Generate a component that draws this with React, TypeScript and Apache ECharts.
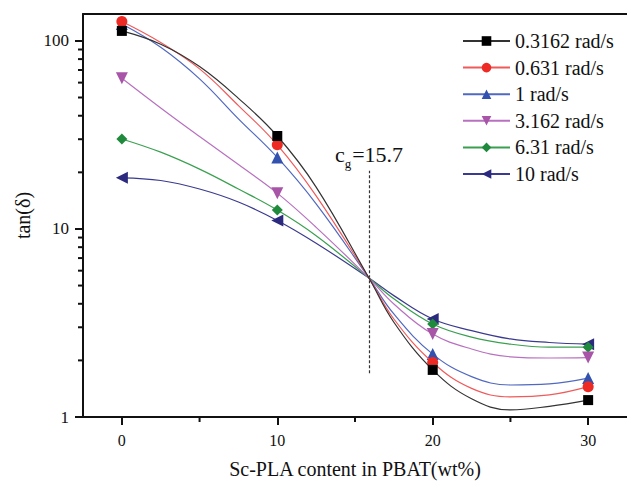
import React, { useEffect, useRef } from "react";
import * as echarts from "echarts";

const SERIES_NAMES = ["0.3162 rad/s", "0.631 rad/s", "1 rad/s", "3.162 rad/s", "6.31 rad/s", "10 rad/s"];
const X_MEASURED = [0, 10, 20, 30];
const S1 = [113, 31.2, 1.78, 1.23];
const S2 = [126.7, 28, 1.95, 1.45];
const S3 = [123, 24, 2.16, 1.61];
const S4 = [63.3, 15.5, 2.76, 2.07];
const S5 = [30.1, 12.6, 3.12, 2.35];
const S6 = [18.7, 11.1, 3.32, 2.44];

// points
const X_CURVE = [2.5, 5, 7.5, 12.5, 15.9, 17.5, 22.5, 25, 27.5];
const C1 = [96, 73, 49.5, 16.7, 5.48, 3.19, 1.25, 1.09, 1.14];
const C2 = [98, 71, 45.3, 15.0, 5.48, 3.32, 1.42, 1.28, 1.31];
const C3 = [92.5, 62.8, 38.5, 13.6, 5.48, 3.53, 1.64, 1.48, 1.5];
const C4 = [44, 31, 22, 10.2, 5.48, 3.99, 2.3, 2.09, 2.06];
const C5 = [25.6, 20.8, 16.3, 9.2, 5.48, 4.25, 2.66, 2.44, 2.35];
const C6 = [18.1, 16.3, 13.9, 8.4, 5.48, 4.42, 2.88, 2.6, 2.49];

const X_TICKS = [0, 10, 20, 30];
const X_MINOR = [5, 15, 25];
const Y_TICKS = [1, 10, 100];
const Y_MINOR = [2, 3, 4, 5, 6, 7, 8, 9, 20, 30, 40, 50, 60, 70, 80, 90];
const X_MIN = -2.5;
const X_MAX = 32.5;
const Y_MIN = 1;
const Y_MAX = 139;
const CG_X = 15.9;
const CG_RANGE = [1.71, 20.4];
const CG_TEXT = "=15.7";

const MEASURED = [S1, S2, S3, S4, S5, S6];
const CURVES = [C1, C2, C3, C4, C5, C6];
const MARKER_COLORS = ["#000000", "#ee2a24", "#3352b0", "#a855a8", "#1f8a3c", "#2b2a7e"];
const LINE_COLORS = ["#333333", "#f05a5a", "#5068c0", "#b870c0", "#3aa050", "#3a3a90"];
const SYMBOLS = [
  "rect",
  "circle",
  "triangle",
  "path://M0,0 L10,0 L5,9 Z",
  "diamond",
  "path://M9,0 L9,10 L0,5 Z",
];
const SIZES = [10, 11, 12, 12, 11, 12];

const FONT = "Liberation Serif";
const INK = "#111111";

export default function App() {
  const ref = useRef<HTMLDivElement>(null);
  useEffect(() => {
    const chart = echarts.init(ref.current!, null, { renderer: "svg" });
    const series: any[] = SERIES_NAMES.map((name, i) => {
      const pts: any[] = [];
      X_MEASURED.forEach((x, k) => pts.push({ value: [x, MEASURED[i][k]] }));
      X_CURVE.forEach((x, k) => pts.push({ value: [x, CURVES[i][k]], symbol: "none" }));
      pts.sort((a, b) => a.value[0] - b.value[0]);
      const s: any = {
        name,
        type: "line",
        data: pts,
        smooth: 0.4,
        symbol: SYMBOLS[i],
        symbolSize: SIZES[i],
        showSymbol: true,
        lineStyle: { color: LINE_COLORS[i], width: 1.2 },
        itemStyle: { color: MARKER_COLORS[i] },
        z: 10 - i,
      };
      if (i === 0) {
        s.markLine = {
          silent: true,
          symbol: "none",
          animation: false,
          lineStyle: { color: "#333", width: 1.2, type: [3, 2] },
          label: {
            show: true,
            position: "end",
            distance: 3,
            formatter: "{c|c}{g|g}{c|" + CG_TEXT + "}",
            rich: {
              c: { fontFamily: FONT, fontSize: 22, color: INK, lineHeight: 24, verticalAlign: "top" },
              g: { fontFamily: FONT, fontSize: 13, color: INK, lineHeight: 24, padding: [13, 1, 0, 0], verticalAlign: "top" },
            },
          },
          data: [[{ coord: [CG_X, CG_RANGE[0]] }, { coord: [CG_X, CG_RANGE[1]] }]],
        };
      }
      return s;
    });

    // minor ticks drawn along the axes
    series.push({
      type: "custom",
      coordinateSystem: "cartesian2d",
      silent: true,
      clip: false,
      encode: { x: 0, y: 1 },
      data: Y_MINOR.map((v) => [X_MIN, v]),
      renderItem: (params: any, api: any) => {
        const p = api.coord([api.value(0), api.value(1)]);
        return {
          type: "line",
          shape: { x1: p[0] - 5, y1: p[1], x2: p[0], y2: p[1] },
          style: { stroke: INK, lineWidth: 2 },
        };
      },
      z: 20,
    });
    series.push({
      type: "custom",
      coordinateSystem: "cartesian2d",
      silent: true,
      clip: false,
      encode: { x: 0, y: 1 },
      data: X_MINOR.map((v) => [v, Y_MIN]),
      renderItem: (params: any, api: any) => {
        const p = api.coord([api.value(0), api.value(1)]);
        return {
          type: "line",
          shape: { x1: p[0], y1: p[1], x2: p[0], y2: p[1] + 5 },
          style: { stroke: INK, lineWidth: 2 },
        };
      },
      z: 20,
    });

    chart.setOption({
      animation: false,
      backgroundColor: "#ffffff",
      textStyle: { fontFamily: FONT },
      grid: { left: 83, right: 0, top: 14, bottom: 64, containLabel: false, outerBoundsMode: "none" },
      legend: {
        orient: "vertical",
        left: 462,
        top: 31,
        padding: 0,
        itemWidth: 47,
        itemHeight: 12,
        itemGap: 6.6,
        textStyle: { fontFamily: FONT, fontSize: 20, color: INK, lineHeight: 20 },
        data: SERIES_NAMES,
      },
      xAxis: [
        {
          type: "value",
          min: X_MIN,
          max: X_MAX,
          name: "Sc-PLA content in PBAT(wt%)",
          nameLocation: "middle",
          nameGap: 42,
          nameTextStyle: { fontFamily: FONT, fontSize: 20, color: INK },
          axisLine: { onZero: false, lineStyle: { color: INK, width: 2 } },
          axisTick: { customValues: X_TICKS, length: 8, lineStyle: { color: INK, width: 2 } },
          axisLabel: { customValues: X_TICKS, margin: 15, fontFamily: FONT, fontSize: 16, color: INK },
          splitLine: { show: false },
        },
        {
          type: "value",
          min: X_MIN,
          max: X_MAX,
          position: "top",
          axisLine: { show: true, onZero: false, lineStyle: { color: INK, width: 2 } },
          axisTick: { show: false },
          axisLabel: { show: false },
          splitLine: { show: false },
        },
      ],
      yAxis: [
        {
          type: "log",
          min: Y_MIN,
          max: Y_MAX,
          name: "tan(δ)",
          nameLocation: "middle",
          nameGap: 48,
          nameRotate: 90,
          nameTextStyle: { fontFamily: FONT, fontSize: 20, color: INK },
          axisLine: { onZero: false, lineStyle: { color: INK, width: 2 } },
          axisTick: { customValues: Y_TICKS, length: 8, lineStyle: { color: INK, width: 2 } },
          axisLabel: { customValues: Y_TICKS, margin: 14, fontFamily: FONT, fontSize: 17, color: INK },
          splitLine: { show: false },
        },
      ],
      series,
    });
    return () => chart.dispose();
  }, []);
  return <div ref={ref} style={{ position: "fixed", left: 0, top: 0, width: 627, height: 481 }} />;
}
